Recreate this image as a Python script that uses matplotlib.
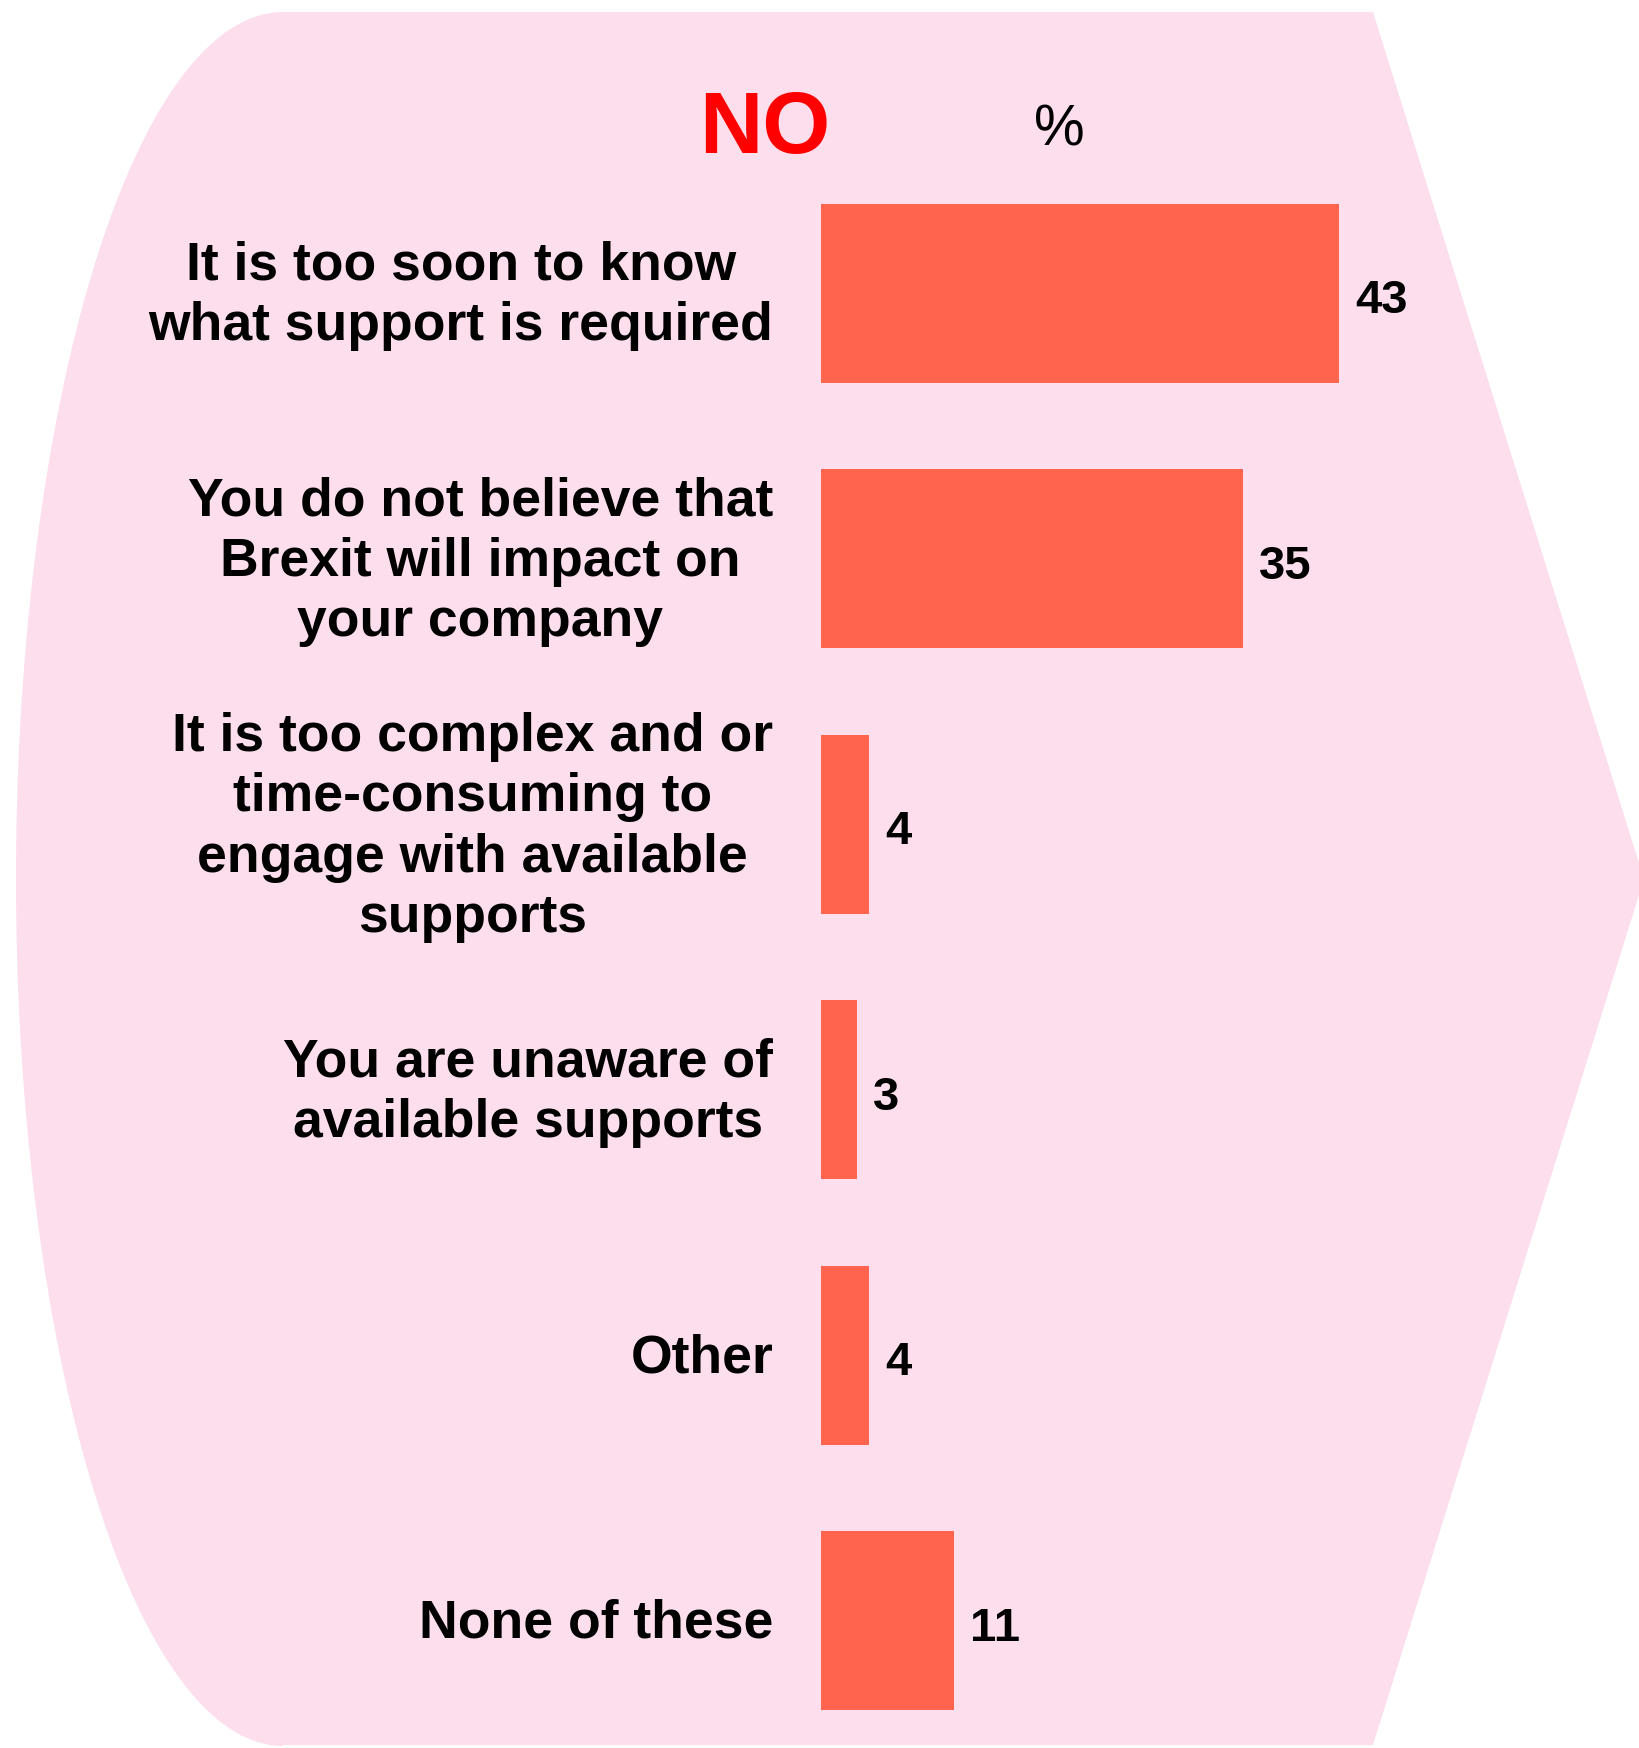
import numpy as np
import matplotlib
matplotlib.use("Agg")
import matplotlib.pyplot as plt
from matplotlib.path import Path
from matplotlib.patches import PathPatch

plt.rcParams['font.family'] = ['Liberation Sans', 'DejaVu Sans']

categories = [
    "It is too soon to know\nwhat support is required",
    "You do not believe that\nBrexit will impact on\nyour company",
    "It is too complex and or\ntime-consuming to\nengage with available\nsupports",
    "You are unaware of\navailable supports",
    "Other",
    "None of these",
]
values = [43, 35, 4, 3, 4, 11]

bar_color = '#FF644E'
bg_color = '#FCDEEC'

W, H = 1639, 1749
fig = plt.figure(figsize=(W / 100, H / 100), dpi=100)

# background panel: rounded left side, arrow point on the right
bg = fig.add_axes([0, 0, 1, 1])
bg.set_xlim(0, W)
bg.set_ylim(H, 0)
bg.axis('off')
top, bottom, cx, cy = 13, 1746, 283, 880
t = np.linspace(np.pi / 2, 3 * np.pi / 2, 200)
arc_x = cx + 267 * np.cos(t)
arc_y = cy + 867 * np.sin(t)
pts = [(cx, top), (1373, top), (1644, cy), (1373, bottom), (cx, bottom)]
pts += list(zip(arc_x[::-1], arc_y[::-1]))
pts.append((cx, top))
codes = [Path.MOVETO] + [Path.LINETO] * (len(pts) - 2) + [Path.CLOSEPOLY]
bg.add_patch(PathPatch(Path(pts, codes), facecolor=bg_color, edgecolor='none'))

# bar chart
ax = fig.add_axes([821 / W, 0.00435, 723 / W, 0.9110])
ax.patch.set_alpha(0)
y = np.arange(len(values))
ax.barh(y, values, height=0.674, color=bar_color)
ax.set_xlim(0, 60)
ax.set_ylim(5.45, -0.55)
ax.axis('off')

for i, (cat, v) in enumerate(zip(categories, values)):
    ax.annotate(cat, xy=(0, i), xytext=(-34.5, -1.5), textcoords='offset points',
                ha='right', va='center', multialignment='center',
                fontsize=38.5, fontweight='bold', color='black', linespacing=1.27,
                annotation_clip=False)
    ax.annotate(str(v), xy=(v, i), xytext=(11.5, -5), textcoords='offset points',
                ha='left', va='center', fontsize=34, fontweight='bold',
                color='black', annotation_clip=False)

fig.text(765 / W, 1 - 130 / H, "NO", ha='center', va='center',
         fontsize=63, fontweight='bold', color='#FF0000')
fig.text(1059 / W, 1 - 130 / H, "%", ha='center', va='center',
         fontsize=41, color='black')

plt.savefig('out.png', dpi=100, facecolor='white')
plt.close()
